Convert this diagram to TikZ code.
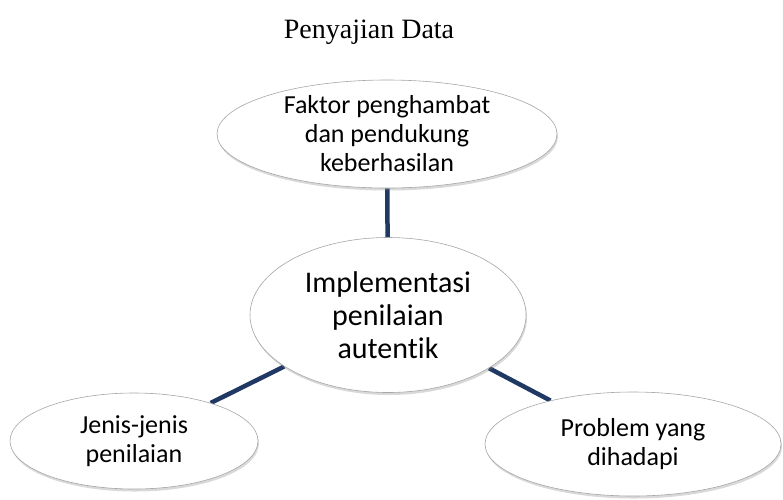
\documentclass[tikz,border=0pt]{standalone}
\usepackage{fontspec}
\setmainfont{Liberation Serif}
\newfontfamily\calibri[Ligatures=NoCommon]{Carlito}
\usetikzlibrary{shapes.geometric,shadows,backgrounds}
\definecolor{linkblue}{RGB}{31,56,100}
\pgfdeclareradialshading{bubblefill}{\pgfpoint{0bp}{0bp}}{%
  color(0bp)=(white); color(38bp)=(white); color(50bp)=(gray!22); color(70bp)=(gray!22)}
\tikzset{
  bubble/.style={ellipse, draw=gray!70, line width=0.6pt, inner sep=0pt,
    shading=bubblefill, align=center,
    drop shadow={opacity=0.3, shadow xshift=1pt, shadow yshift=-2.5pt},
    font=\calibri\fontsize{26}{29}\selectfont},
  link/.style={linkblue, line width=4.5pt}
}
\begin{document}
\begin{tikzpicture}[x=1pt, y=-1pt]
  \useasboundingbox (0,0) rectangle (783,499);
  \node (title) at (369,32) {\fontsize{28}{32}\selectfont Penyajian Data};
  \node[bubble, minimum width=340pt, minimum height=108pt] (faktor) at (387,134)
    {Faktor penghambat\\dan pendukung\\keberhasilan};
  \node[bubble, minimum width=276pt, minimum height=155pt,
    font=\calibri\fontsize{30}{33}\selectfont] (impl) at (388,315)
    {Implementasi\\penilaian\\autentik};
  \node[bubble, minimum width=248pt, minimum height=96pt] (jenis) at (134,441)
    {Jenis-jenis\\penilaian};
  \node[bubble, minimum width=296pt, minimum height=104pt] (problem) at (633,444)
    {Problem yang\\dihadapi};
  \begin{scope}[on background layer]
    \draw[link] (impl) to (faktor);
    \draw[link] (impl) to (jenis);
    \draw[link] (impl) to (problem);
  \end{scope}
\end{tikzpicture}
\end{document}
